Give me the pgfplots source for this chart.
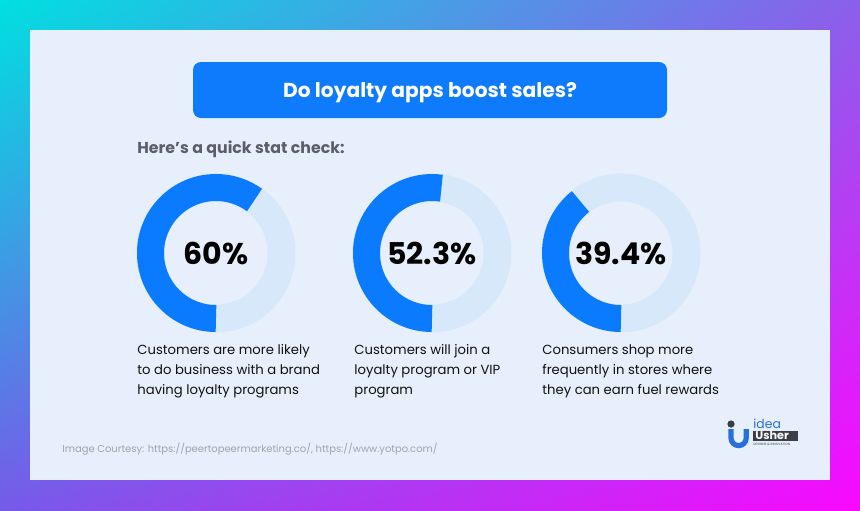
\documentclass[border=0pt]{standalone}
\usepackage{pgfplots}
\pgfplotsset{compat=1.18}
\usepackage{pgfplotstable}
\usetikzlibrary{shadings}
\usepackage{fontspec}
\setmainfont{Poppins}
\definecolor{bgTL}{RGB}{0,224,224}
\definecolor{bgTR}{RGB}{139,95,234}
\definecolor{bgBL}{RGB}{118,90,232}
\definecolor{bgBR}{RGB}{250,8,255}
\definecolor{panel}{RGB}{230,239,251}
\definecolor{donutblue}{RGB}{10,123,255}
\definecolor{titleblue}{RGB}{14,122,252}
\definecolor{ringlight}{RGB}{216,232,251}
\definecolor{headgray}{RGB}{91,94,104}
\definecolor{capblack}{RGB}{17,17,17}
\definecolor{footgray}{RGB}{160,165,173}
\definecolor{logoblue}{RGB}{40,110,220}
\definecolor{logodark}{RGB}{58,62,70}

\pgfplotstableread{
cx cy value
216 253 60
432 253 52.3
621 253 39.4
}\donuts

\begin{document}
\begin{tikzpicture}
\begin{axis}[
  scale only axis, width=430pt, height=255pt,
  xmin=0, xmax=860, ymin=0, ymax=510, y dir=reverse,
  axis lines=none, ticks=none, clip=false,
]
% background
\shade[upper left=bgTL, upper right=bgTR, lower left=bgBL, lower right=bgBR]
  (axis cs:0,0) rectangle (axis cs:860,510);
\fill[panel] (axis cs:30,30) rectangle (axis cs:830,480);
% title
\fill[titleblue, rounded corners=4pt] (axis cs:193,62) rectangle (axis cs:667,118);
\node[anchor=base, text=white, inner sep=0pt, font=\fontsize{10.1}{12}\selectfont\bfseries]
  at (axis cs:430,97) {Do loyalty apps boost sales?};
\node[anchor=base west, text=headgray, inner sep=0pt, font=\fontsize{7.9}{9}\selectfont\bfseries]
  at (axis cs:137,153) {Here's a quick stat check:};
% donuts
\addplot[scatter, only marks, mark=*, mark size=0pt,
  point meta=explicit,
  visualization depends on={\thisrow{value} \as \pct},
  scatter/@pre marker code/.code={%
    \pgfmathsetmacro\sweep{3.6*\pct}%
    \fill[ringlight, even odd rule] (0,0) circle[radius=39.5pt] (0,0) circle[radius=26pt];%
    \draw[line width=13.5pt, donutblue] (270:32.75pt) arc[start angle=270, delta angle=-\sweep, radius=32.75pt];%
    \node[font=\fontsize{15}{18}\selectfont\bfseries, text=black, inner sep=0pt] at (0,0)
      {\pgfmathprintnumber[fixed,precision=1,assume math mode=true]{\pct}\%};%
    \scope[opacity=0]},
  scatter/@post marker code/.code={\endscope},
] table[x=cx, y=cy, meta=value] {\donuts};
% captions
\begin{scope}[every node/.style={anchor=base west, inner sep=0pt, text=capblack, font=\fontsize{6.6}{9}\selectfont}]
\node at (axis cs:137,354) {Customers are more likely};
\node at (axis cs:137,374) {to do business with a brand};
\node at (axis cs:137,394) {having loyalty programs};
\node at (axis cs:354,354) {Customers will join a};
\node at (axis cs:354,374) {loyalty program or VIP};
\node at (axis cs:354,394) {program};
\node at (axis cs:542,354) {Consumers shop more};
\node at (axis cs:542,374) {frequently in stores where};
\node at (axis cs:542,394) {they can earn fuel rewards};
\end{scope}
% footer
\node[anchor=base west, inner sep=0pt, text=footgray, font=\fontsize{4.98}{6}\selectfont]
  at (axis cs:62,452) {Image Courtesy: https://peertopeermarketing.co/, https://www.yotpo.com/};
% logo
\fill[logodark] (axis cs:731,424) circle[radius=1.8pt];
\draw[logoblue, line width=2.6pt] (axis cs:731,429) -- (axis cs:731,438)
  arc[start angle=180, end angle=360, radius=3.8pt] -- ++(0,4.5pt);
\node[anchor=base west, inner sep=0pt, text=logoblue, font=\fontsize{6.2}{7}\selectfont]
  at (axis cs:753,428) {idea};
\fill[logodark] (axis cs:753,431) rectangle (axis cs:798,441);
\node[anchor=base west, inner sep=0pt, text=white, font=\fontsize{5.6}{6}\selectfont\bfseries]
  at (axis cs:755,439.5) {Usher};
\node[anchor=base west, inner sep=0pt, text=logodark, font=\fontsize{1.6}{2}\selectfont]
  at (axis cs:753,445.5) {DESIGNS \& INNOVATION};
\end{axis}
\end{tikzpicture}
\end{document}
